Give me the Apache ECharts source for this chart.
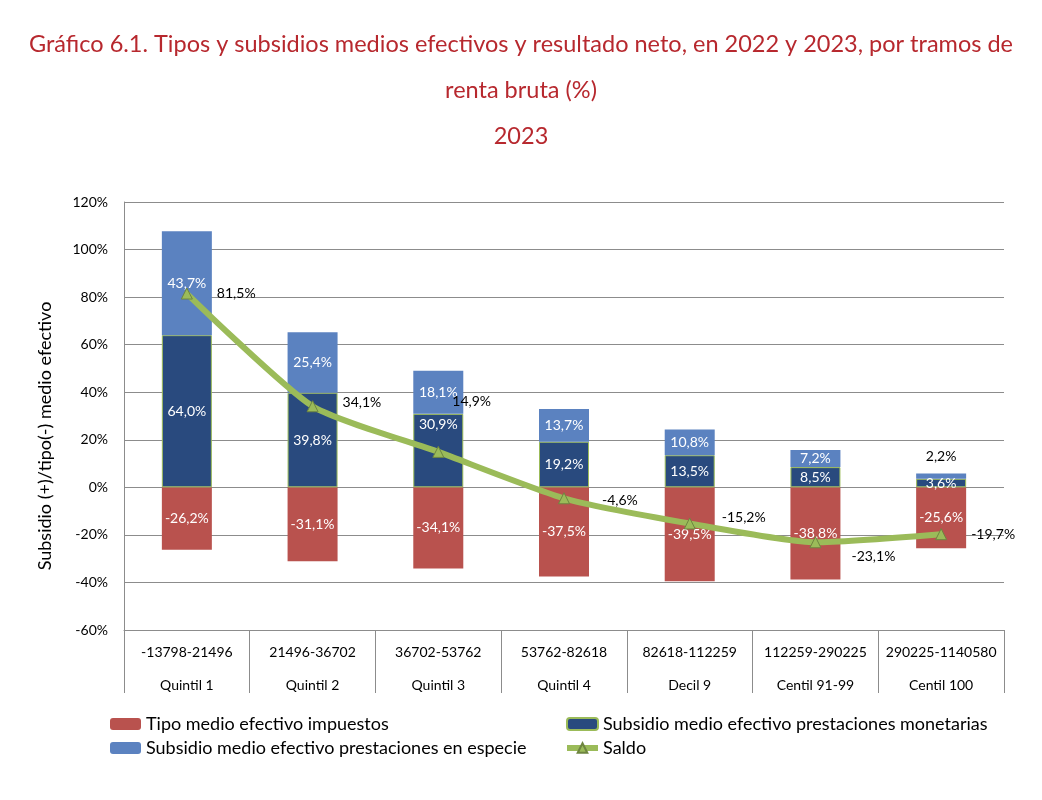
<!DOCTYPE html>
<html>
<head>
<meta charset="utf-8">
<script src="https://cdn.jsdelivr.net/npm/echarts@6/dist/echarts.min.js"></script>
<style>
  html, body { margin: 0; padding: 0; background: #fff; }
  #main { width: 1042px; height: 800px; }
</style>
</head>
<body>
<div id="main"></div>
<script>
// Gráfico 6.1 - tipos y subsidios medios efectivos, 2023

var tramos = ['-13798-21496', '21496-36702', '36702-53762', '53762-82618', '82618-112259', '112259-290225', '290225-1140580'];
var grupos = ['Quintil 1', 'Quintil 2', 'Quintil 3', 'Quintil 4', 'Decil 9', 'Centil 91-99', 'Centil 100'];

var impuestos = [-26.2, -31.1, -34.1, -37.5, -39.5, -38.8, -25.6];
var monetarias = [64.0, 39.8, 30.9, 19.2, 13.5, 8.5, 3.6];
var especie = [43.7, 25.4, 18.1, 13.7, 10.8, 7.2, 2.2];
var saldo = [81.5, 34.1, 14.9, -4.6, -15.2, -23.1, -19.7];

// desplazamiento de las etiquetas del saldo (estilo)
var saldoOffsets = [[2, 0], [2, -4], [-14, -50], [10, 2], [4, -6], [8, 14], [2, 0]];

var fuente = 'Lato, "Open Sans", sans-serif';

function pct(v) {
  return v.toFixed(1).replace('.', ',') + '%';
}

var myChart = echarts.init(document.getElementById('main'));
window.onresize = function() {
  myChart.resize();
};

var option;

option = {
  animation: false,
  textStyle: { fontFamily: fuente },
  title: {
    text: 'Gráfico 6.1. Tipos y subsidios medios efectivos y resultado neto, en 2022 y 2023, por tramos de\nrenta bruta (%)\n2023',
    left: 'center',
    top: 16,
    textStyle: {
      color: '#B7282E',
      fontFamily: fuente,
      fontSize: 23.5,
      fontWeight: 'normal',
      lineHeight: 46
    }
  },
  legend: [
    {
      orient: 'vertical',
      left: 105,
      top: 710,
      itemWidth: 31,
      itemHeight: 12,
      itemGap: 6,
      textStyle: { fontSize: 18, color: '#000', fontFamily: fuente },
      data: ['Tipo medio efectivo impuestos', 'Subsidio medio efectivo prestaciones en especie']
    },
    {
      orient: 'vertical',
      left: 559,
      top: 710,
      itemWidth: 31,
      itemHeight: 12,
      itemGap: 6,
      lineStyle: { width: 6 },
      textStyle: { fontSize: 18, color: '#000', fontFamily: fuente },
      data: ['Subsidio medio efectivo prestaciones monetarias', 'Saldo']
    }
  ],
  grid: {
    left: 124,
    right: 38,
    top: 202,
    bottom: 170
  },
  xAxis: {
    type: 'category',
    data: tramos,
    axisLine: { onZero: false, lineStyle: { color: '#8c8c8c' } },
    axisTick: { show: true, length: 63, lineStyle: { color: '#8c8c8c' } },
    axisLabel: {
      interval: 0,
      margin: 6,
      color: '#000',
      fontSize: 14,
      lineHeight: 33,
      formatter: function(v, i) {
        return v + '\n' + grupos[i];
      }
    }
  },
  yAxis: {
    type: 'value',
    min: -60,
    max: 120,
    interval: 20,
    name: 'Subsidio (+)/tipo(-) medio efectivo',
    nameLocation: 'middle',
    nameGap: 70,
    nameTextStyle: { fontSize: 18, color: '#000', fontFamily: fuente, padding: [0, 40, 0, 0] },
    axisLine: { show: true, lineStyle: { color: '#8c8c8c' } },
    axisTick: { show: false },
    splitLine: { lineStyle: { color: '#8c8c8c' } },
    axisLabel: {
      color: '#000',
      fontSize: 14,
      margin: 16,
      formatter: function(v) { return v + '%'; }
    }
  },
  series: [
    {
      name: 'Tipo medio efectivo impuestos',
      type: 'bar',
      stack: 'total',
      barWidth: 50,
      itemStyle: { color: '#B9524E' },
      label: {
        show: true,
        position: 'inside',
        color: '#fff',
        fontSize: 14,
        formatter: function(p) { return pct(p.value); }
      },
      data: impuestos
    },
    {
      name: 'Subsidio medio efectivo prestaciones monetarias',
      type: 'bar',
      stack: 'total',
      barWidth: 50,
      itemStyle: { color: '#294A7E', borderColor: '#9BBB59', borderWidth: 1 },
      label: {
        show: true,
        position: 'inside',
        color: '#fff',
        fontSize: 14,
        formatter: function(p) { return pct(p.value); }
      },
      data: monetarias.map(function(v, i) {
        if (i === 2) {
          return { value: v, label: { offset: [0, -26] } };
        }
        return v;
      })
    },
    {
      name: 'Subsidio medio efectivo prestaciones en especie',
      type: 'bar',
      stack: 'total',
      barWidth: 50,
      itemStyle: { color: '#5B82C0' },
      label: {
        show: true,
        position: 'inside',
        color: '#fff',
        fontSize: 14,
        formatter: function(p) { return pct(p.value); }
      },
      data: especie.map(function(v, i) {
        if (i === especie.length - 1) {
          return { value: v, label: { position: 'top', color: '#000', distance: 10 } };
        }
        return v;
      })
    },
    {
      name: 'Saldo',
      type: 'line',
      smooth: 0.2,
      symbol: 'triangle',
      symbolSize: 11,
      lineStyle: { color: '#9BBB59', width: 6 },
      itemStyle: { color: '#9BBB59', borderColor: '#6E8540', borderWidth: 1 },
      label: {
        show: true,
        position: 'right',
        distance: 22,
        color: '#000',
        fontSize: 14,
        formatter: function(p) { return pct(p.value); }
      },
      z: 5,
      data: saldo.map(function(v, i) {
        return { value: v, label: { offset: saldoOffsets[i] } };
      })
    }
  ]
};

option && myChart.setOption(option);
</script>
</body>
</html>
